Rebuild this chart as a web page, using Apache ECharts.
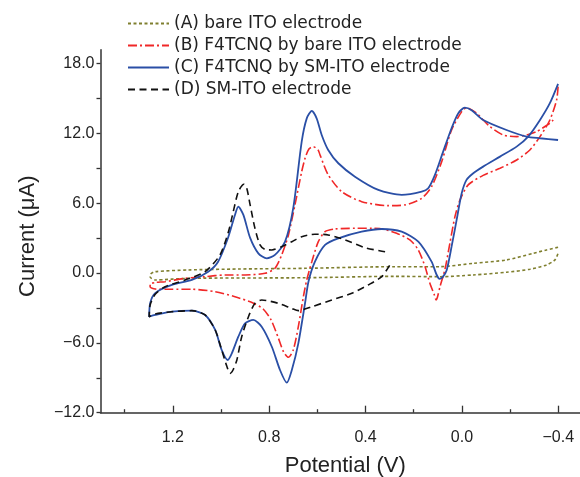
<!DOCTYPE html>
<html>
<head>
<meta charset="utf-8">
<script src="https://cdn.jsdelivr.net/npm/echarts@6/dist/echarts.min.js"></script>
<style>
	html, body { margin: 0; padding: 0; background: #fff; }
	#main { width: 580px; height: 477px; }
</style>
</head>
<body>
<div id="main"></div>
<script>
// [potential (V), current (uA)], in scan order
var curveA = [
	[-0.399,2.22],[-0.351,1.99],[-0.296,1.70],[-0.185,1.13],[-0.047,0.84],[0.091,0.55],[0.278,0.55],
	[0.651,0.41],[0.928,0.35],[1.135,0.27],[1.273,0.12],[1.292,-0.08],[1.294,-0.34],[1.273,-0.59],
	[1.135,-0.45],[0.651,-0.40],[0.278,-0.28],[0.091,-0.31],[-0.047,-0.16],[-0.185,0.07],[-0.282,0.33],
	[-0.351,0.70],[-0.386,1.13],[-0.399,1.70]
];
var curveB = [
	[-0.399,16.03],[-0.393,14.88],[-0.365,13.16],[-0.324,11.73],[-0.282,10.58],[-0.227,9.72],[-0.158,9.01],
	[-0.088,8.40],[-0.026,7.58],[0.008,6.29],[0.029,4.85],[0.050,2.56],[0.071,0.27],[0.091,-1.17],
	[0.102,-2.10],[0.107,-2.31],[0.114,-1.90],[0.133,-0.88],[0.153,0.55],[0.181,1.99],[0.216,2.85],
	[0.271,3.42],[0.326,3.77],[0.375,3.85],[0.444,3.85],[0.527,3.79],[0.568,3.56],[0.596,2.70],
	[0.623,0.98],[0.644,-0.59],[0.658,-2.03],[0.679,-4.61],[0.700,-6.61],[0.720,-7.24],[0.740,-6.78],
	[0.762,-5.58],[0.792,-4.03],[0.825,-3.09],[0.867,-2.57],[0.942,-2.03],[1.024,-1.60],[1.121,-1.39],
	[1.204,-1.39],[1.273,-1.37],[1.294,-1.20],
	[1.294,-0.94],[1.273,-0.81],[1.232,-0.74],[1.149,-0.45],[1.066,-0.31],[0.983,-0.16],[0.900,-0.16],
	[0.817,-0.02],[0.776,0.41],[0.748,1.56],[0.720,3.28],[0.693,5.86],[0.665,8.72],[0.651,9.87],
	[0.635,10.67],[0.617,10.87],[0.597,10.58],[0.589,10.16],[0.555,8.44],[0.499,7.00],[0.416,6.14],
	[0.306,5.80],[0.236,5.86],[0.167,6.43],[0.126,7.43],[0.084,9.58],[0.043,12.30],[0.001,13.88],
	[-0.019,14.22],[-0.061,13.74],[-0.116,12.59],[-0.171,11.87],[-0.227,11.73],[-0.268,11.87],
	[-0.310,12.16],[-0.365,12.88],[-0.379,13.16]
];
var curveC = [
	[-0.399,16.26],[-0.365,14.60],[-0.324,13.16],[-0.275,11.73],[-0.227,10.87],[-0.158,10.01],[-0.088,9.15],
	[-0.047,8.58],[-0.019,8.01],[0.001,6.86],[0.022,4.57],[0.043,2.27],[0.063,0.27],[0.080,-0.35],
	[0.093,-0.50],[0.106,-0.10],[0.126,0.98],[0.181,2.70],[0.250,3.56],[0.333,3.79],[0.416,3.56],
	[0.513,2.99],[0.568,2.42],[0.610,0.98],[0.637,-0.74],[0.651,-2.57],[0.679,-6.04],[0.706,-8.33],
	[0.727,-9.42],[0.755,-8.33],[0.789,-6.33],[0.831,-4.61],[0.866,-4.03],[0.900,-4.32],[0.928,-5.47],
	[0.955,-6.90],[0.972,-7.47],[0.997,-6.61],[1.024,-4.89],[1.066,-3.60],[1.121,-3.23],[1.204,-3.32],
	[1.273,-3.60],[1.298,-3.75],
	[1.294,-2.58],[1.273,-1.72],[1.204,-1.02],[1.121,-0.59],[1.053,0.12],[1.012,0.98],[0.971,3.02],
	[0.942,5.00],[0.928,5.71],[0.907,5.00],[0.879,3.02],[0.845,1.70],[0.810,1.27],[0.776,1.56],
	[0.734,2.70],[0.700,5.60],[0.665,11.30],[0.644,13.30],[0.623,13.94],[0.603,13.30],[0.582,11.87],
	[0.555,10.58],[0.513,9.44],[0.444,8.29],[0.347,7.15],[0.250,6.72],[0.167,7.00],[0.140,7.29],
	[0.112,8.44],[0.078,10.44],[0.043,12.45],[0.015,13.74],[-0.012,14.22],[-0.040,14.00],
	[-0.088,13.16],[-0.185,12.30],[-0.268,11.73],[-0.324,11.59],[-0.399,11.44]
];
var curveD = [
	[0.319,1.84],[0.402,2.18],[0.485,2.85],[0.555,3.28],[0.610,3.34],[0.665,3.13],[0.706,2.70],
	[0.748,2.27],[0.789,1.99],[0.817,2.03],[0.838,2.42],[0.859,3.85],[0.879,5.86],[0.893,7.29],
	[0.905,7.64],[0.928,7.00],[0.949,5.28],[0.969,3.56],[1.004,1.56],[1.066,0.12],[1.149,-0.59],
	[1.232,-1.17],[1.273,-1.82],[1.294,-2.74],[1.298,-3.75],
	[1.273,-3.52],[1.204,-3.32],[1.121,-3.23],[1.066,-3.60],[1.024,-4.89],[0.997,-6.61],[0.976,-7.99],
	[0.962,-8.62],[0.950,-8.33],[0.934,-7.47],[0.914,-5.47],[0.886,-3.75],[0.859,-2.60],[0.831,-2.31],
	[0.762,-2.60],[0.707,-3.03],[0.679,-3.23],[0.623,-2.89],[0.540,-2.31],[0.457,-1.74],[0.389,-1.02],
	[0.333,-0.31],[0.299,0.70]
];

var names = [
	'(A) bare ITO electrode',
	'(B) F4TCNQ by bare ITO electrode',
	'(C) F4TCNQ by SM-ITO electrode',
	'(D) SM-ITO electrode'
];

var xMajor = [1.2, 0.8, 0.4, 0.0, -0.4];
var xMinor = [1.4, 1.0, 0.6, 0.2, -0.2];
var yTicks = [-12, -9, -6, -3, 0, 3, 6, 9, 12, 15, 18];
var yLabels = [-12, -6, 0, 6, 12, 18];

function fmt(v){
	var s = Math.abs(v).toFixed(1);
	return v < 0 ? '\u2212' + s : s;
}

var axisColor = '#333';
var labelFont = { fontFamily: 'Liberation Sans', fontSize: 16, color: '#222' };
var chart = echarts.init(document.getElementById('main'));

chart.setOption({
	animation: false,
	grid: { left: 100.5, right: 0, top: 49.7, bottom: 64.3, containLabel: false, outerBoundsMode: 'none' },
	legend: {
		orient: 'vertical',
		left: 122,
		top: 10,
		itemWidth: 41,
		itemHeight: 14,
		itemGap: 5,
		itemStyle: { opacity: 0 },
		textStyle: { fontFamily: 'DejaVu Sans', fontSize: 17, color: '#222' },
		data: names
	},
	xAxis: [{
		type: 'value',
		min: -0.49,
		max: 1.5,
		inverse: true,
		position: 'bottom',
		name: 'Potential (V)',
		nameLocation: 'middle',
		nameGap: 42,
		nameTextStyle: { fontFamily: 'Liberation Sans', fontSize: 22, color: '#222', padding: [0, 0, 0, 10] },
		axisLine: { onZero: false, lineStyle: { color: axisColor, width: 1.5 } },
		axisTick: { inside: true, length: 7, customValues: xMajor, lineStyle: { color: axisColor, width: 1.3 } },
		axisLabel: Object.assign({ customValues: xMajor, margin: 17, formatter: fmt }, labelFont),
		splitLine: { show: false }
	}, {
		// minor ticks only
		type: 'value',
		min: -0.49,
		max: 1.5,
		inverse: true,
		position: 'bottom',
		axisLine: { show: false, onZero: false },
		axisTick: { inside: true, length: 3.5, customValues: xMinor, lineStyle: { color: axisColor, width: 1.3 } },
		axisLabel: { show: false },
		splitLine: { show: false }
	}],
	yAxis: {
		type: 'value',
		min: -12,
		max: 19.2,
		name: 'Current (\u03bcA)',
		nameLocation: 'middle',
		nameGap: 62,
		nameTextStyle: { fontFamily: 'Liberation Sans', fontSize: 22, color: '#222', padding: [0, 10, 0, 0] },
		axisLine: { show: true, onZero: false, lineStyle: { color: axisColor, width: 1.5 } },
		axisTick: { show: true, length: 4, customValues: yTicks, lineStyle: { color: axisColor, width: 1.3 } },
		axisLabel: Object.assign({ customValues: yLabels, margin: 6, formatter: fmt }, labelFont),
		splitLine: { show: false }
	},
	series: [
		{ name: names[0], type: 'line', data: curveA, symbol: 'none', smooth: 0.25,
			lineStyle: { color: '#7f7f2e', width: 1.6, type: [3, 2.5] }, itemStyle: { color: '#7f7f2e' } },
		{ name: names[1], type: 'line', data: curveB, symbol: 'none', smooth: 0.25,
			lineStyle: { color: '#f02828', width: 1.6, type: [9, 3, 2, 3] }, itemStyle: { color: '#f02828' } },
		{ name: names[2], type: 'line', data: curveC, symbol: 'none', smooth: 0.25,
			lineStyle: { color: '#2a4fa6', width: 1.8, type: 'solid' }, itemStyle: { color: '#2a4fa6' } },
		{ name: names[3], type: 'line', data: curveD, symbol: 'none', smooth: 0.25,
			lineStyle: { color: '#111', width: 1.6, type: [7, 4.5] }, itemStyle: { color: '#111' } }
	]
});
</script>
</body>
</html>
